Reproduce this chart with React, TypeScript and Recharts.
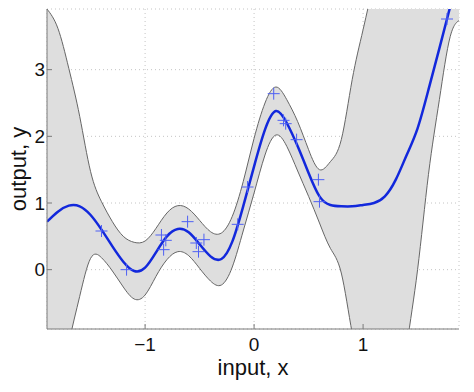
import { Area, CartesianGrid, ComposedChart, Label, Line, Scatter, XAxis, YAxis } from "recharts";

// GP posterior sampled along the input axis
const xs = [
  -1.9, -1.8, -1.7, -1.6, -1.5, -1.4, -1.3, -1.2, -1.1, -1.0, -0.9, -0.8, -0.7, -0.6, -0.5, -0.4, -0.3, -0.2, -0.1,
  0.0, 0.1, 0.2, 0.3, 0.4, 0.5, 0.6, 0.7, 0.8, 0.9, 1.0, 1.1, 1.2, 1.3, 1.4, 1.5, 1.6, 1.7, 1.8, 1.9,
];
const meanY = [
  0.72, 0.87, 0.96, 0.95, 0.82, 0.6, 0.35, 0.12, -0.02, 0.03, 0.26, 0.5, 0.61, 0.56, 0.38, 0.2, 0.16, 0.42, 0.95,
  1.55, 2.1, 2.38, 2.2, 1.85, 1.45, 1.1, 0.97, 0.95, 0.95, 0.97, 1.0, 1.1, 1.35, 1.72, 2.12, 2.7, 3.32, 3.95, 4.6,
];
const upperY = [
  3.91, 3.62, 3.02, 2.3, 1.47, 1.02, 0.72, 0.5, 0.41, 0.43, 0.62, 0.85, 0.96, 0.91, 0.74, 0.57, 0.55, 0.8, 1.32,
  1.97, 2.5, 2.74, 2.55, 2.22, 1.8, 1.5, 1.62, 1.95, 2.85, 3.6, 4.3, 4.8, 5.0, 4.6, 4.24, 3.98, 4.1, 4.4, 5.45,
];
const lowerY = [
  -2.47, -1.88, -1.1, -0.4, 0.17, 0.18, -0.02, -0.26, -0.44, -0.38, -0.1, 0.15, 0.27, 0.21, 0.02, -0.17, -0.23, 0.04, 0.58,
  1.15, 1.72, 2.02, 1.85, 1.48, 1.1, 0.7, 0.32, -0.05, -0.95, -1.66, -2.3, -2.6, -2.3, -1.16, 0.0, 1.43, 2.55, 3.5, 3.75,
];

// observations
const obsX = [-1.4, -1.17, -0.85, -0.81, -0.83, -0.61, -0.53, -0.46, -0.51, -0.15, -0.06, 0.18, 0.27, 0.29, 0.39, 0.59, 0.6, 1.77];
const obsY = [0.58, 0.0, 0.52, 0.44, 0.3, 0.72, 0.4, 0.45, 0.27, 0.68, 1.24, 2.64, 2.24, 2.19, 1.95, 1.35, 1.02, 3.76];

const xTicks = [-1, 0, 1];
const yTicks = [0, 1, 2, 3];

const curve = xs.map((x, i) => ({ x, mean: meanY[i], band: [lowerY[i], upperY[i]] }));
const obs = obsX.map((x, i) => ({ x, y: obsY[i] }));

const FONT = "'Liberation Sans', Arial, Helvetica, sans-serif";
const FRAME = "#7a7a7a";

const fmt = (v: number) => (v < 0 ? `\u2212${-v}` : `${v}`);

function Plus(props: any) {
  const { cx, cy } = props;
  if (cx == null || cy == null) return null;
  return <path d={`M${cx - 6},${cy}H${cx + 6}M${cx},${cy - 6}V${cy + 6}`} stroke="#4e60f4" strokeWidth={1} fill="none" />;
}

function XTitle(props: any) {
  const vb = props.viewBox;
  return (
    <text x={vb.x + vb.width / 2} y={vb.y + 46} textAnchor="middle" fontSize={22} fill="#111" fontFamily={FONT}>
      input, x
    </text>
  );
}

function YTitle(props: any) {
  const vb = props.viewBox;
  const cx = vb.x + 26;
  const cy = vb.y + vb.height / 2;
  return (
    <text x={cx} y={cy} transform={`rotate(-90 ${cx} ${cy})`} textAnchor="middle" fontSize={22} fill="#111" fontFamily={FONT}>
      output, y
    </text>
  );
}

export default function App() {
  return (
    <div style={{ position: "fixed", left: 0, top: 0, background: "#fff" }}>
      <ComposedChart
        width={474}
        height={392}
        data={curve}
        margin={{ top: 9, right: 15, bottom: 0, left: 0 }}
        style={{ fontFamily: FONT }}
      >
        <CartesianGrid stroke="#c4c4c4" strokeDasharray="1 3" />
        <XAxis
          type="number"
          dataKey="x"
          domain={[-1.9, 1.88]}
          ticks={xTicks}
          allowDataOverflow
          height={63}
          stroke={FRAME}
          tickSize={-5}
          tickMargin={14}
          tickFormatter={fmt}
          tick={{ fill: "#111", fontSize: 19 }}
        >
          <Label content={<XTitle />} />
        </XAxis>
        <XAxis
          xAxisId="top"
          orientation="top"
          type="number"
          dataKey="x"
          domain={[-1.9, 1.88]}
          ticks={xTicks}
          allowDataOverflow
          height={0}
          stroke={FRAME}
          tickSize={-5}
          tick={false}
        />
        <YAxis
          type="number"
          domain={[-0.89, 3.91]}
          ticks={yTicks}
          allowDataOverflow
          width={47}
          stroke={FRAME}
          tickSize={-5}
          tickMargin={7}
          tickFormatter={fmt}
          tick={{ fill: "#111", fontSize: 19 }}
        >
          <Label content={<YTitle />} />
        </YAxis>
        <YAxis
          yAxisId="right"
          orientation="right"
          type="number"
          domain={[-0.89, 3.91]}
          ticks={yTicks}
          allowDataOverflow
          width={0}
          stroke={FRAME}
          tickSize={-5}
          tick={false}
        />
        <Area
          dataKey="band"
          type="natural"
          fill="#dedede"
          fillOpacity={1}
          stroke="#666"
          strokeWidth={1}
          isAnimationActive={false}
          dot={false}
          activeDot={false}
        />
        <Scatter data={obs} dataKey="y" shape={<Plus />} isAnimationActive={false} />
        <Line
          dataKey="mean"
          type="natural"
          stroke="#1228dc"
          strokeWidth={2.5}
          dot={false}
          activeDot={false}
          isAnimationActive={false}
        />
      </ComposedChart>
    </div>
  );
}
